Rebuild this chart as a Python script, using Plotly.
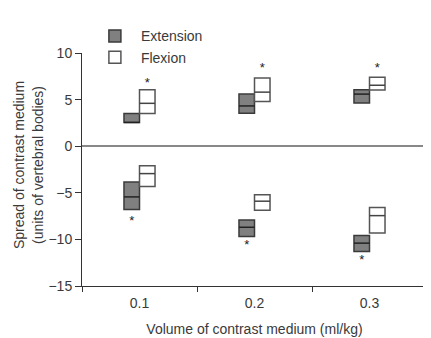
import plotly.graph_objects as go

volumes = [0.1, 0.2, 0.3]
tick_labels = ["0.1", "0.2", "0.3"]

# Extension (grey) boxes: cranial (positive) and caudal (negative) spread
ext_pos_low = [2.55, 3.53, 4.63]
ext_pos_med = [2.55, 4.32, 5.59]
ext_pos_high = [3.5, 5.59, 6.05]
ext_neg_low = [-6.79, -9.68, -11.3]
ext_neg_med = [-5.44, -8.7, -10.4]
ext_neg_high = [-3.85, -7.92, -9.58]

# Flexion (white) boxes
flex_pos_low = [3.5, 4.8, 6.02]
flex_pos_med = [4.6, 5.8, 6.54]
flex_pos_high = [6.05, 7.32, 7.39]
flex_neg_low = [-4.32, -6.86, -9.3]
flex_neg_med = [-2.94, -5.9, -7.45]
flex_neg_high = [-2.09, -5.2, -6.57]

# significance marks
star_flex_pos = [6.7, 8.3, 8.3]
star_ext_neg = [-8.1, -10.7, -12.3]

W = 0.0135
FONT = "Liberation Sans, Arial, sans-serif"
TXT = "#3a3a3a"

fig = go.Figure()

def add_boxes(name, lows, highs, offset, fill, edge, showlegend):
    fig.add_trace(go.Bar(
        x=volumes, base=lows, y=[h - l for h, l in zip(highs, lows)],
        width=W, offset=offset, name=name, showlegend=showlegend,
        marker=dict(color=fill, line=dict(color=edge, width=1.5)),
        legendgroup=name, hoverinfo="skip"))

add_boxes("Extension", ext_pos_low, ext_pos_high, -W, "#808080", "#3a3a3a", True)
add_boxes("Extension", ext_neg_low, ext_neg_high, -W, "#808080", "#3a3a3a", False)
add_boxes("Flexion", flex_pos_low, flex_pos_high, 0, "#ffffff", "#555555", True)
add_boxes("Flexion", flex_neg_low, flex_neg_high, 0, "#ffffff", "#555555", False)

def median_lines(meds, offset, color):
    xs, ys = [], []
    for c, m in zip(volumes, meds):
        xs += [c + offset, c + offset + W, None]
        ys += [m, m, None]
    fig.add_trace(go.Scatter(x=xs, y=ys, mode="lines", showlegend=False,
                             line=dict(color=color, width=1.5), hoverinfo="skip"))

median_lines(ext_pos_med, -W, "#222222")
median_lines(ext_neg_med, -W, "#222222")
median_lines(flex_pos_med, 0, "#444444")
median_lines(flex_neg_med, 0, "#444444")

fig.add_trace(go.Scatter(
    x=[c + W / 2 for c in volumes] + [c - W / 2 for c in volumes],
    y=star_flex_pos + star_ext_neg, mode="text", text=["*"] * 6,
    textfont=dict(family=FONT, size=13, color="#222"), showlegend=False,
    hoverinfo="skip"))

fig.add_annotation(
    text="Spread of contrast medium<br>(units of vertebral bodies)",
    xref="paper", yref="paper", x=-0.156, y=0.52, xanchor="center",
    yanchor="middle", textangle=-90, showarrow=False,
    font=dict(family=FONT, size=14, color=TXT))

fig.update_layout(
    width=431, height=338,
    margin=dict(l=74, r=12, t=42, b=60),
    paper_bgcolor="white", plot_bgcolor="white",
    font=dict(family=FONT, size=14, color=TXT),
    barmode="overlay",
    legend=dict(x=0.02, y=1.14, xanchor="left", yanchor="top",
                bgcolor="rgba(0,0,0,0)", font=dict(size=14, color=TXT),
                tracegroupgap=0, itemwidth=42),
    xaxis=dict(range=[0.05, 0.35], tickvals=volumes, ticktext=tick_labels,
               ticks="", showline=True, linecolor="#333", linewidth=1,
               showgrid=False, zeroline=False, tickfont=dict(size=14),
               ticklabelstandoff=4, automargin=False,
               minor=dict(tickvals=[0.05, 0.15, 0.25, 0.35], ticks="outside",
                          ticklen=5, tickcolor="#333", showgrid=False),
               title=dict(text="Volume of contrast medium (ml/kg)", standoff=14,
                          font=dict(size=14, color=TXT))),
    yaxis=dict(range=[-15, 10], tickvals=[-15, -10, -5, 0, 5, 10],
               ticktext=["\u221215", "\u221210", "\u22125", "0", "5", "10"],
               ticks="outside", ticklen=6, tickcolor="#333", tickfont=dict(size=14),
               showline=True, linecolor="#333", linewidth=1, showgrid=False,
               automargin=False,
               zeroline=True, zerolinecolor="#888", zerolinewidth=1.5),
)

fig.write_html("out.html")
